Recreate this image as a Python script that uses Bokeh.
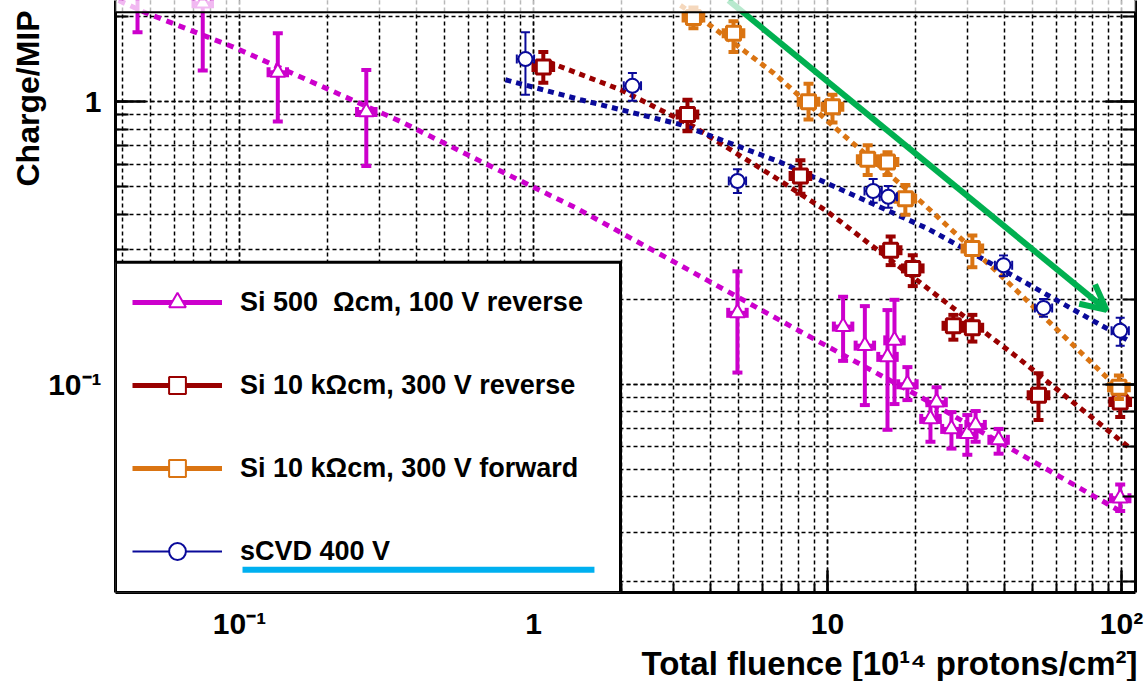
import math
from bokeh.plotting import figure
from bokeh.models import (Range1d, LogAxis, LogTicker, CustomJSTickFormatter, Legend,
                          LegendItem, BoxAnnotation, Arrow, OpenHead, Span, Title)
from bokeh.embed import file_html
from bokeh.resources import INLINE

# ---------------- data ----------------
# Si 500 Ohm cm, 100 V reverse
si500_x = [0.045, 0.075, 0.135, 0.27, 4.94, 11.3, 13.4, 16.0, 16.9, 18.7,
           22.4, 23.5, 26.4, 29.9, 31.9, 38.2, 99.0]
si500_y = [2.53, 2.23, 1.27, 0.92, 0.179, 0.160, 0.137, 0.125, 0.143, 0.100,
           0.0754, 0.0864, 0.0695, 0.0668, 0.0718, 0.0636, 0.0395]
si500_lo = [1.76, 1.29, 0.851, 0.592, 0.110, 0.121, 0.0844, 0.0690, 0.0851, 0.0879,
            0.0626, 0.0736, 0.0592, 0.0563, 0.0626, 0.0568, 0.0356]
si500_hi = [3.64, 3.70, 1.746, 1.295, 0.251, 0.204, 0.189, 0.183, 0.199, 0.115,
            0.0864, 0.0976, 0.0797, 0.0778, 0.0804, 0.0695, 0.0442]
si500_xerr = 0.075

# Si 10 kOhm cm, 300 V reverse
rev_x = [1.08, 3.34, 8.09, 16.4, 19.5, 26.8, 31.1, 52.2, 99.0]
rev_y = [1.327, 0.900, 0.546, 0.298, 0.257, 0.161, 0.1585, 0.0915, 0.0865]
rev_lo = [1.166, 0.785, 0.472, 0.264, 0.2225, 0.1438, 0.1416, 0.0747, 0.0766]
rev_hi = [1.498, 1.016, 0.621, 0.333, 0.286, 0.176, 0.176, 0.1093, 0.0937]
rev_xerr = 0.08

# Si 10 kOhm cm, 300 V forward
fwd_x = [3.50, 4.79, 8.62, 10.4, 13.7, 16.0, 18.4, 31.1, 98.0]
fwd_y = [1.987, 1.746, 1.00, 0.960, 0.626, 0.611, 0.453, 0.3025, 0.0976]
fwd_lo = [1.818, 1.498, 0.8645, 0.844, 0.550, 0.550, 0.398, 0.2595, 0.0886]
fwd_hi = [2.154, 1.924, 1.157, 1.058, 0.701, 0.6625, 0.507, 0.336, 0.1075]
fwd_xerr = 0.08

# sCVD 400 V
cvd_x = [0.939, 2.17, 4.94, 14.3, 16.1, 39.7, 54.3, 99.0]
cvd_y = [1.415, 1.138, 0.524, 0.483, 0.4605, 0.2637, 0.1863, 0.1547]
cvd_lo = [1.058, 1.008, 0.4755, 0.4386, 0.4212, 0.2413, 0.1732, 0.137]
cvd_hi = [1.760, 1.264, 0.577, 0.5325, 0.503, 0.2858, 0.2003, 0.1718]
cvd_xerr = 0.07

# fitted curves
fit500_x = [0.0388, 0.0486, 0.0954, 0.353, 0.660, 1.411, 9.47, 20.2, 42.6, 101.6]
fit500_y = [2.28, 2.052, 1.560, 0.851, 0.616, 0.418, 0.1404, 0.0915, 0.0587, 0.035]
fitrev_x = [1.125, 1.977, 3.50, 6.76, 10.0, 21.2, 44.3, 107.3]
fitrev_y = [1.381, 1.102, 0.817, 0.5325, 0.408, 0.2243, 0.1244, 0.0592]
fitfwd_x = [3.162, 3.907, 6.55, 11.07, 21.2, 38.8, 109.0]
fitfwd_y = [2.19, 1.893, 1.264, 0.778, 0.435, 0.2432, 0.0864]
fitcvd_x = [0.803, 1.445, 3.162, 6.92, 21.9, 44.3, 105.6]
fitcvd_y = [1.195, 1.016, 0.830, 0.6106, 0.3556, 0.2374, 0.1427]

x_tick_values = [0.1, 1, 10, 100]
x_tick_labels = ["10\u207b\u00b9", "1", "10", "10\u00b2"]
y_tick_values = [0.01, 0.1, 1]
y_tick_labels = ["10\u207b\u00b2", "10\u207b\u00b9", "1"]

legend_labels = ["Si 500  \u03a9cm, 100 V reverse", "Si 10 k\u03a9cm, 300 V reverse",
                 "Si 10 k\u03a9cm, 300 V forward", "sCVD 400 V"]
x_title = "Total fluence [10\u00b9\u2074 protons/cm\u00b2]"
y_title = "Charge/MIP"

# ---------------- styles ----------------
MAG = "#CC00CC"
RED = "#990000"
ORA = "#DA7412"
BLU = "#0A0A9A"
GREEN = "#00B050"
CYAN = "#00B0F0"
FONT = "Liberation Sans"

p = figure(width=1144, height=681, x_axis_type="log", y_axis_type="log",
           x_range=Range1d(0.03787, 111.6), y_range=Range1d(0.01833, 2.280),
           output_backend="svg", toolbar_location=None,
           min_border_left=115, min_border_right=9, min_border_top=0, min_border_bottom=84,
           background_fill_color="white", border_fill_color="white")

p.outline_line_color = None

def make_fmt(vals, labs):
    return CustomJSTickFormatter(args=dict(vals=vals, labs=labs), code="""
        const e = Math.log10(tick);
        for (let i = 0; i < vals.length; i++) {
            if (Math.abs(Math.log10(vals[i]) - e) < 1e-6) return labs[i];
        }
        return "";
    """)

for ax, vals, labs in ((p.xaxis[0], x_tick_values, x_tick_labels),
                       (p.yaxis[0], y_tick_values, y_tick_labels)):
    ax.formatter = make_fmt(vals, labs)
    ax.axis_line_width = 3
    ax.major_tick_out = 0
    ax.minor_tick_out = 0
    ax.major_tick_line_width = 2.5
    ax.minor_tick_line_width = 2
    ax.major_label_text_font = FONT
    ax.major_label_text_font_style = "bold"
    ax.major_label_text_font_size = "30px"
    ax.major_label_text_color = "black"

p.xaxis.major_tick_in = 22
p.xaxis.minor_tick_in = 9
p.xaxis.major_label_standoff = 14
p.yaxis.major_tick_in = 30
p.yaxis.minor_tick_in = 13
p.yaxis.major_label_standoff = 14

blank = CustomJSTickFormatter(code="return '';")
ra = LogAxis(ticker=LogTicker(), formatter=blank, major_label_standoff=0,
             major_label_text_font_size="10px",
             major_tick_in=30, major_tick_out=0, minor_tick_in=13, minor_tick_out=0,
             axis_line_width=3, major_tick_line_width=2.5, minor_tick_line_width=2)
p.add_layout(ra, "right")

for g in (p.xgrid[0], p.ygrid[0]):
    g.grid_line_color = "black"
    g.grid_line_dash = "4 3"
    g.grid_line_width = 1.5
    g.minor_grid_line_color = "black"
    g.minor_grid_line_dash = "4 3"
    g.minor_grid_line_width = 1.5

# axis titles (ROOT style: x title right-aligned, y title near the top)
p.add_layout(Title(text=x_title, align="right", text_font=FONT, text_font_style="bold",
                   text_font_size="33px", text_color="black", standoff=0, offset=-2), "below")
p.add_layout(Title(text=y_title, align="left", text_font=FONT, text_font_style="bold",
                   text_font_size="32px", text_color="black", standoff=0, offset=406), "left")

# fit lines
p.line(fit500_x, fit500_y, line_color=MAG, line_width=5, line_dash="7 6")
p.line(fitrev_x, fitrev_y, line_color=RED, line_width=5, line_dash="6 5")
p.line(fitfwd_x, fitfwd_y, line_color=ORA, line_width=5, line_dash="6 5")
p.line(fitcvd_x, fitcvd_y, line_color=BLU, line_width=5, line_dash="6 5")

def series(x, y, lo, hi, xerr, color, marker, msize, mlw, bw, cap, capw):
    xl = [v / (1 + xerr) for v in x]
    xh = [v * (1 + xerr) for v in x]
    p.segment(x0=x, y0=lo, x1=x, y1=hi, line_color=color, line_width=bw)
    p.segment(x0=xl, y0=y, x1=xh, y1=y, line_color=color, line_width=bw)
    p.scatter(x + x, lo + hi, marker="dash", size=cap, line_color=color, line_width=capw)
    p.scatter(xl + xh, y + y, marker="dash", angle=math.pi / 2, size=cap,
              line_color=color, line_width=capw)
    p.scatter(x, y, marker=marker, size=msize, fill_color="white",
              line_color=color, line_width=mlw)

series(si500_x, si500_y, si500_lo, si500_hi, si500_xerr, MAG, "triangle", 15, 2, 4, 10, 4)
series(rev_x, rev_y, rev_lo, rev_hi, rev_xerr, RED, "square", 14, 3, 4, 10, 4)
series(fwd_x, fwd_y, fwd_lo, fwd_hi, fwd_xerr, ORA, "square", 14, 3, 4, 10, 4)
series(cvd_x, cvd_y, cvd_lo, cvd_hi, cvd_xerr, BLU, "circle", 14, 2, 2, 9, 2)

# green arrow
p.add_layout(Arrow(x_start=4.61, y_start=2.28, x_end=88.9, y_end=0.1833,
                   line_color=GREEN, line_width=6,
                   end=OpenHead(size=25, line_color=GREEN, line_width=6)))

# legend box
p.add_layout(BoxAnnotation(left=0.03787, right=1.977, bottom=0.01833, top=0.2702,
                           fill_color="white", fill_alpha=1.0,
                           line_color="black", line_alpha=1.0, line_width=3))

# legend-only renderers (kept outside the visible range)
items = []
specs = [(MAG, "triangle", 5, 2), (RED, "square", 5, 2), (ORA, "square", 5, 2), (BLU, "circle", 2, 2)]
for lab, (c, m, lw, mlw) in zip(legend_labels, specs):
    lr = p.line([1e-6, 2e-6], [1e-6, 2e-6], line_color=c, line_width=lw)
    sr = p.scatter([1e-6], [1e-6], marker=m, size=15, fill_color="white", line_color=c, line_width=mlw)
    items.append(LegendItem(label=lab, renderers=[lr, sr]))

leg = Legend(items=items, location=(-3, 0), margin=0, padding=20, spacing=41,
             glyph_width=90, glyph_height=42, label_height=42, label_standoff=18,
             label_text_font=FONT, label_text_font_style="bold", label_text_font_size="27px",
             label_text_color="black",
             background_fill_alpha=0, border_line_alpha=0)
p.add_layout(leg, "center")

# cyan underline
p.add_layout(BoxAnnotation(left=0.1024, right=1.612, bottom=0.02154, top=0.02262,
                           fill_color=CYAN, fill_alpha=1.0, line_alpha=0, level="overlay"))

# washed-out strip above the black line at the top
p.add_layout(BoxAnnotation(left=0.03787, right=111.6, bottom=2.07, top=2.28,
                           fill_color="white", fill_alpha=0.72, line_alpha=0, level="overlay"))
p.add_layout(Span(location=2.07, dimension="width", line_color="black", line_width=2,
                  level="overlay"))

open("out.html", "w").write(file_html(p, INLINE))
